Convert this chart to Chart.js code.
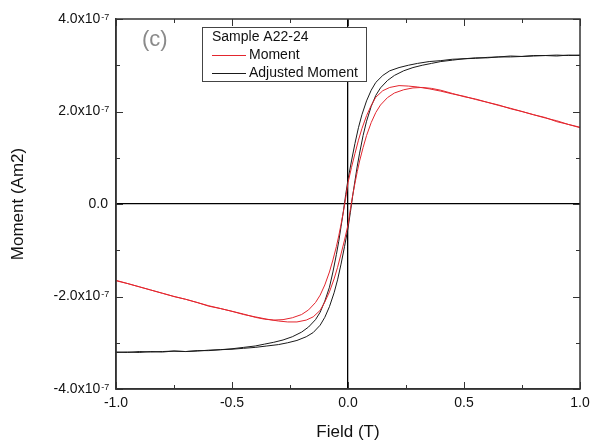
<!DOCTYPE html>
<html>
<head>
<meta charset="utf-8">
<script src="https://cdn.jsdelivr.net/npm/chart.js@4/dist/chart.umd.min.js"></script>
<style>
  html, body { margin: 0; padding: 0; background: #ffffff; }
  canvas { display: block; }
</style>
</head>
<body>
<canvas id="loop" width="597" height="446"></canvas>
<script>
// Applied field (T), ascending sweep -1 -> +1
const fieldUp = [
  -1.00, -0.95, -0.90, -0.85, -0.80, -0.75, -0.70, -0.65, -0.60, -0.55,
  -0.50, -0.45, -0.40, -0.35, -0.30, -0.26, -0.22, -0.18, -0.15, -0.12,
  -0.10, -0.08, -0.06, -0.045, -0.03, -0.015, 0.00, 0.01, 0.02, 0.03,
  0.04, 0.05, 0.065, 0.08, 0.10, 0.12, 0.14, 0.17, 0.20, 0.24,
  0.28, 0.32, 0.36, 0.40, 0.45, 0.50, 0.55, 0.60, 0.65, 0.70,
  0.75, 0.80, 0.85, 0.90, 0.95, 1.00
];
// Applied field (T), descending sweep +1 -> -1
const fieldDown = [
  1.00, 0.95, 0.90, 0.85, 0.80, 0.75, 0.70, 0.65, 0.60, 0.55,
  0.50, 0.45, 0.40, 0.35, 0.30, 0.26, 0.22, 0.18, 0.15, 0.12,
  0.10, 0.08, 0.06, 0.045, 0.03, 0.015, 0.00, -0.01, -0.02, -0.03,
  -0.04, -0.05, -0.065, -0.08, -0.10, -0.12, -0.14, -0.17, -0.20, -0.24,
  -0.28, -0.32, -0.36, -0.40, -0.45, -0.50, -0.55, -0.60, -0.65, -0.70,
  -0.75, -0.80, -0.85, -0.90, -0.95, -1.00
];

// Measured moment (x1e-7 Am2)
const momentUp = [
  -1.65, -1.72, -1.79, -1.86, -1.93, -2.00, -2.06, -2.13, -2.21, -2.26,
  -2.32, -2.39, -2.44, -2.49, -2.53, -2.55, -2.55, -2.51, -2.44, -2.30,
  -2.12, -1.90, -1.62, -1.37, -1.08, -0.78, -0.45, -0.12, 0.18, 0.45,
  0.70, 0.93, 1.22, 1.48, 1.76, 1.98, 2.14, 2.30, 2.40, 2.47,
  2.51, 2.52, 2.50, 2.46, 2.39, 2.32, 2.27, 2.20, 2.13, 2.07,
  2.00, 1.93, 1.86, 1.80, 1.72, 1.66
];
const momentDown = [
  1.65, 1.72, 1.78, 1.87, 1.93, 2.00, 2.06, 2.14, 2.20, 2.26,
  2.33, 2.38, 2.44, 2.49, 2.53, 2.55, 2.56, 2.52, 2.45, 2.31,
  2.13, 1.91, 1.63, 1.38, 1.09, 0.79, 0.46, 0.13, -0.17, -0.44,
  -0.69, -0.92, -1.21, -1.47, -1.75, -1.97, -2.13, -2.29, -2.39, -2.46,
  -2.50, -2.51, -2.49, -2.45, -2.38, -2.32, -2.26, -2.20, -2.13, -2.06,
  -2.00, -1.93, -1.86, -1.79, -1.72, -1.66
];

// Moment after subtracting the linear high-field background (x1e-7 Am2)
const adjustedUp = [
  -3.20, -3.21, -3.19, -3.20, -3.19, -3.18, -3.19, -3.17, -3.17, -3.15,
  -3.14, -3.12, -3.10, -3.07, -3.04, -3.00, -2.95, -2.87, -2.78, -2.62,
  -2.45, -2.22, -1.92, -1.64, -1.30, -0.92, -0.52, -0.19, 0.17, 0.50,
  0.82, 1.10, 1.48, 1.79, 2.11, 2.35, 2.51, 2.67, 2.78, 2.88,
  2.95, 3.00, 3.04, 3.08, 3.11, 3.14, 3.15, 3.17, 3.18, 3.20,
  3.19, 3.21, 3.21, 3.22, 3.21, 3.22
];
const adjustedDown = [
  3.21, 3.22, 3.20, 3.21, 3.20, 3.19, 3.18, 3.18, 3.16, 3.16,
  3.14, 3.13, 3.10, 3.08, 3.04, 3.00, 2.95, 2.88, 2.78, 2.63,
  2.46, 2.23, 1.93, 1.65, 1.31, 0.93, 0.53, 0.20, -0.16, -0.49,
  -0.81, -1.09, -1.47, -1.80, -2.10, -2.34, -2.50, -2.66, -2.77, -2.87,
  -2.94, -2.99, -3.03, -3.07, -3.10, -3.13, -3.15, -3.16, -3.18, -3.19,
  -3.18, -3.20, -3.19, -3.21, -3.20, -3.21
];

const seriesNames = ['Moment', 'Adjusted Moment'];
const seriesColors = ['#e3262e', '#1a1a1a'];
const sampleName = 'Sample A22-24';
const panelTag = '(c)';

const xTickValues = [-1, -0.5, 0, 0.5, 1];
const xTickLabels = ['-1.0', '-0.5', '0.0', '0.5', '1.0'];
const xMinorTicks = [-0.75, -0.25, 0.25, 0.75];
const yTickValues = [-4, -2, 0, 2, 4];
const yTickLabels = ['-4.0x10', '-2.0x10', '0.0', '2.0x10', '4.0x10'];
const yTickExponents = ['-7', '-7', '', '-7', '-7'];
const yMinorTicks = [-3, -1, 1, 3];

const FONT = '"Liberation Sans", Arial, sans-serif';
const SUP_GAP = '  ';

function toPoints(xs, ys) {
  return xs.map((x, i) => ({ x: x, y: ys[i] }));
}

const momentLoop = toPoints(fieldDown, momentDown).concat(toPoints(fieldUp, momentUp));
const adjustedLoop = toPoints(fieldDown, adjustedDown).concat(toPoints(fieldUp, adjustedUp));

// Frame, inward tick marks, superscript exponents, legend box and panel tag
const decorations = {
  id: 'decorations',
  afterDraw(chart) {
    const ctx = chart.ctx;
    const ca = chart.chartArea;
    const xs = chart.scales.x;
    const ys = chart.scales.y;
    ctx.save();

    // frame
    ctx.strokeStyle = '#333333';
    ctx.lineWidth = 1.5;
    ctx.strokeRect(ca.left, ca.top, ca.right - ca.left, ca.bottom - ca.top);

    // tick marks pointing inward on all four sides
    ctx.lineWidth = 1;
    ctx.beginPath();
    const xTick = (v, len) => {
      const p = Math.round(xs.getPixelForValue(v)) + 0.5;
      ctx.moveTo(p, ca.bottom); ctx.lineTo(p, ca.bottom - len);
      ctx.moveTo(p, ca.top); ctx.lineTo(p, ca.top + len);
    };
    const yTick = (v, len) => {
      const p = Math.round(ys.getPixelForValue(v)) + 0.5;
      ctx.moveTo(ca.left, p); ctx.lineTo(ca.left + len, p);
      ctx.moveTo(ca.right, p); ctx.lineTo(ca.right - len, p);
    };
    xTickValues.forEach(v => xTick(v, 7));
    xMinorTicks.forEach(v => xTick(v, 4));
    yTickValues.forEach(v => yTick(v, 7));
    yMinorTicks.forEach(v => yTick(v, 4));
    ctx.stroke();

    // exponents after the y tick labels
    ctx.font = '14px ' + FONT;
    const gapW = ctx.measureText(SUP_GAP).width;
    const labelRight = ys.right - ys.options.ticks.padding;
    ctx.font = '9px ' + FONT;
    ctx.fillStyle = '#111111';
    ctx.textAlign = 'left';
    ctx.textBaseline = 'alphabetic';
    yTickValues.forEach((v, i) => {
      if (!yTickExponents[i]) return;
      const p = ys.getPixelForValue(v);
      ctx.fillText(yTickExponents[i], labelRight - gapW + 1, p + 0.5);
    });

    // legend box
    const bx = ca.left + 86.5, by = ca.top + 8.5, bw = 164, bh = 54;
    ctx.fillStyle = '#ffffff';
    ctx.fillRect(bx, by, bw, bh);
    ctx.strokeStyle = '#444444';
    ctx.lineWidth = 1;
    ctx.strokeRect(bx, by, bw, bh);
    ctx.font = '14px ' + FONT;
    ctx.fillStyle = '#111111';
    ctx.textBaseline = 'middle';
    ctx.fillText(sampleName, bx + 9.5, by + 10);
    seriesNames.forEach((name, i) => {
      const ly = by + 27 + i * 18;
      ctx.strokeStyle = seriesColors[i];
      ctx.beginPath();
      ctx.moveTo(bx + 9.5, Math.round(ly) + 0.5);
      ctx.lineTo(bx + 43.5, Math.round(ly) + 0.5);
      ctx.stroke();
      ctx.fillStyle = '#111111';
      ctx.fillText(name, bx + 46.5, ly + 0.5);
    });

    // panel tag
    ctx.font = '22px ' + FONT;
    ctx.fillStyle = '#8a8a8a';
    ctx.fillText(panelTag, ca.left + 26, ca.top + 21);

    ctx.restore();
  }
};

const zeroLine = (c) => (c.tick && c.tick.value === 0 ? '#000000' : 'rgba(0,0,0,0)');

new Chart(document.getElementById('loop'), {
  type: 'line',
  data: {
    datasets: [
      {
        label: seriesNames[0],
        data: momentLoop,
        borderColor: seriesColors[0],
        borderWidth: 1,
        pointRadius: 0,
        tension: 0,
        fill: false
      },
      {
        label: seriesNames[1],
        data: adjustedLoop,
        borderColor: seriesColors[1],
        borderWidth: 1,
        pointRadius: 0,
        tension: 0,
        fill: false
      }
    ]
  },
  options: {
    responsive: false,
    devicePixelRatio: 1,
    animation: false,
    layout: { padding: { top: 19, right: 17, bottom: 0, left: 0 } },
    plugins: {
      legend: { display: false },
      tooltip: { enabled: false }
    },
    scales: {
      x: {
        type: 'linear',
        min: -1,
        max: 1,
        afterBuildTicks: (s) => { s.ticks = xTickValues.map(v => ({ value: v })); },
        afterFit: (s) => { s.height = 57; },
        ticks: {
          autoSkip: false,
          maxRotation: 0,
          padding: 6,
          color: '#111111',
          font: { family: FONT, size: 14 },
          callback: (v) => {
            const i = xTickValues.indexOf(v);
            return i >= 0 ? xTickLabels[i] : '';
          }
        },
        grid: { color: zeroLine, lineWidth: 1.3, drawTicks: false },
        border: { display: true, color: '#333333', width: 1.5 },
        title: {
          display: true,
          text: 'Field (T)',
          color: '#111111',
          font: { family: FONT, size: 17 },
          padding: { top: 0, bottom: 3 }
        }
      },
      y: {
        type: 'linear',
        min: -4,
        max: 4,
        afterBuildTicks: (s) => { s.ticks = yTickValues.map(v => ({ value: v })); },
        afterFit: (s) => { s.width = 116; },
        ticks: {
          autoSkip: false,
          padding: 8,
          color: '#111111',
          font: { family: FONT, size: 14 },
          callback: (v) => {
            const i = yTickValues.indexOf(v);
            if (i < 0) return '';
            return yTickExponents[i] ? yTickLabels[i] + SUP_GAP : yTickLabels[i];
          }
        },
        grid: { color: zeroLine, lineWidth: 1.3, drawTicks: false },
        border: { display: true, color: '#333333', width: 1.5 },
        title: {
          display: true,
          text: 'Moment (Am2)',
          color: '#111111',
          font: { family: FONT, size: 17 },
          padding: { top: 8, bottom: 0 }
        }
      }
    }
  },
  plugins: [decorations]
});
</script>
</body>
</html>
